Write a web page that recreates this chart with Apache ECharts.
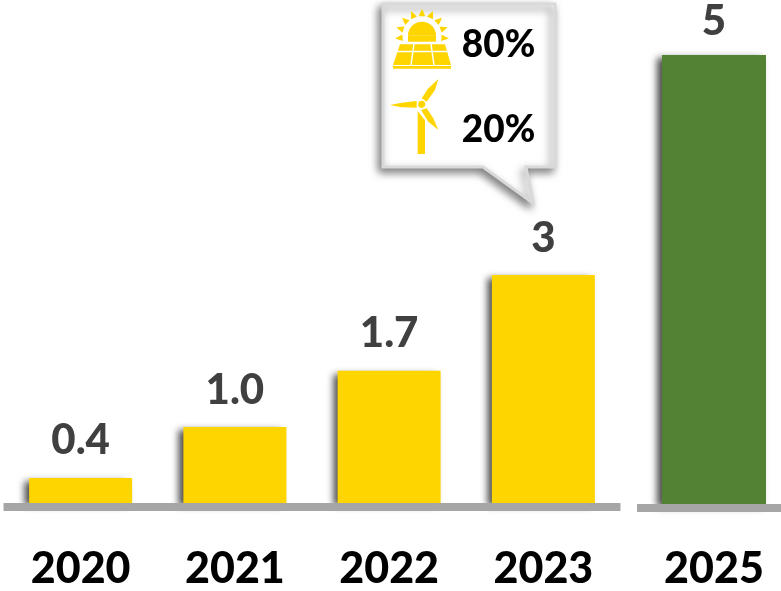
<!DOCTYPE html>
<html>
<head>
<meta charset="utf-8">
<style>html,body{margin:0;padding:0;background:#fff}#main{width:781px;height:591px}</style>
<script src="https://cdn.jsdelivr.net/npm/echarts@6/dist/echarts.min.js"></script>
</head>
<body>
<div id="main"></div>
<script>
// bar heights as drawn, the printed labels are kept apart because the picture is not to scale
var years = ['2020', '2021', '2022', '2023']
var heights = [0.33, 1.0, 1.74, 3.0]
var labels = ['0.4', '1.0', '1.7', '3']
var yearsLater = ['2025']
var heightsLater = [5]
var labelsLater = ['5']
var shares = ['80%', '20%']

var FONT = 'Lato, "Liberation Sans", sans-serif'
var yellow = '#FFD500'

function sunIcon() {
  var cx = 422, cy = 35.7
  var out = []
  // rays
  for (var a = -96; a <= 96; a += 24) {
    var r = a * Math.PI / 180
    var s = Math.sin(r), c = Math.cos(r)
    out.push({
      type: 'polygon',
      shape: { points: [
        [cx + s * 27, cy - c * 27],
        [cx + s * 19.5 - c * 3.3, cy - c * 19.5 - s * 3.3],
        [cx + s * 19.5 + c * 3.3, cy - c * 19.5 + s * 3.3]
      ] },
      style: { fill: yellow }
    })
  }
  out.push({ type: 'sector', shape: { cx: cx, cy: cy, r: 14, startAngle: Math.PI, endAngle: 0, clockwise: true },
    style: { fill: yellow } })
  out.push({ type: 'rect', shape: { x: cx - 14, y: cy, width: 28, height: 6 }, style: { fill: yellow } })
  // panel
  out.push({ type: 'polygon', shape: { points: [[393, 65], [451, 65], [445, 44.3], [400, 44.3]] }, style: { fill: yellow } })
  out.push({ type: 'line', shape: { x1: 390, y1: 51.5, x2: 455, y2: 51.5 }, style: { stroke: '#fff', lineWidth: 1.5 } })
  out.push({ type: 'line', shape: { x1: 414, y1: 44, x2: 411, y2: 65 }, style: { stroke: '#fff', lineWidth: 1.5 } })
  out.push({ type: 'line', shape: { x1: 431, y1: 44, x2: 434, y2: 65 }, style: { stroke: '#fff', lineWidth: 1.5 } })
  out.push({ type: 'rect', shape: { x: 393, y: 66, width: 58, height: 2.8 }, style: { fill: yellow } })
  return out
}

function turbineIcon() {
  // outlines measured in a 3x crop whose corner is at 385,75
  var p = function (list) {
    return list.map(function (q) { return [385 + q[0] / 3, 75 + q[1] / 3] })
  }
  var shapes = [
    [[98, 108], [120, 136], [120, 237], [98, 237]],
    [[110, 70], [130, 40], [160, 12], [150, 45], [125, 80]],
    [[15, 90], [50, 83], [95, 78], [95, 98], [50, 97]],
    [[108, 105], [125, 100], [145, 130], [160, 165], [130, 140]]
  ]
  var out = shapes.map(function (s) {
    return { type: 'polygon', shape: { points: p(s) }, style: { fill: yellow } }
  })
  out.push({ type: 'circle', shape: { cx: 421.7, cy: 104.3, r: 4.2 }, style: { fill: yellow, stroke: '#fff', lineWidth: 1.2 } })
  return out
}

function main() {
  var myChart = echarts.init(document.getElementById('main'))
  var callout = [
    { type: 'polygon',
      shape: { points: [[383, 4], [555, 4], [555, 167], [526, 167], [533, 203], [483, 167], [383, 167]] },
      style: { fill: '#fff', stroke: '#D9D9D9', lineWidth: 3, shadowColor: 'rgba(0,0,0,0.5)', shadowBlur: 8, shadowOffsetX: -3, shadowOffsetY: 4 } },
    { type: 'text', style: { x: 498.5, y: 45, text: shares[0], align: 'center', verticalAlign: 'middle', fill: '#000', font: '900 37px ' + FONT } },
    { type: 'text', style: { x: 498.5, y: 130, text: shares[1], align: 'center', verticalAlign: 'middle', fill: '#000', font: '900 37px ' + FONT } }
  ].concat(sunIcon(), turbineIcon())

  var barLabel = function (list, gap) {
    return {
      show: true,
      position: 'top',
      distance: gap,
      color: '#404040',
      fontFamily: FONT,
      fontWeight: 900,
      fontSize: 42,
      formatter: function (p) { return list[p.dataIndex] }
    }
  }
  var xAxisStyle = function (idx, names, margin) {
    return {
      gridIndex: idx,
      data: names,
      type: 'category',
      offset: 4,
      z: 3,
      axisTick: { show: false },
      axisLine: { onZero: false, lineStyle: { color: '#A6A6A6', width: 8, cap: 'butt' } },
      axisLabel: { color: '#000', fontFamily: FONT, fontWeight: 900, fontSize: 43, margin: margin, interval: 0 }
    }
  }
  var barShadow = { shadowColor: 'rgba(0,0,0,0.7)', shadowBlur: 7, shadowOffsetX: -5, shadowOffsetY: 3 }

  var option = {
    animation: false,
    grid: [
      { left: 3.5, top: 47, width: 617, height: 456, outerBoundsMode: 'none' },
      { left: 637, top: 55, width: 154, height: 449, outerBoundsMode: 'none' }
    ],
    xAxis: [
      xAxisStyle(0, years, 41),
      xAxisStyle(1, yearsLater, 40)
    ],
    yAxis: [
      { gridIndex: 0, type: 'value', min: 0, max: 6, show: false },
      { gridIndex: 1, type: 'value', min: 0, max: 5, show: false }
    ],
    series: [
      { type: 'bar', xAxisIndex: 0, yAxisIndex: 0, data: heights, barWidth: 103,
        itemStyle: Object.assign({ color: yellow }, barShadow), label: barLabel(labels, 16) },
      { type: 'bar', xAxisIndex: 1, yAxisIndex: 1, data: heightsLater, barWidth: 104,
        itemStyle: Object.assign({ color: '#548235' }, barShadow), label: barLabel(labelsLater, 13) }
    ],
    graphic: callout
  }
  myChart.setOption(option)
}

window.onload = main
</script>
</body>
</html>
